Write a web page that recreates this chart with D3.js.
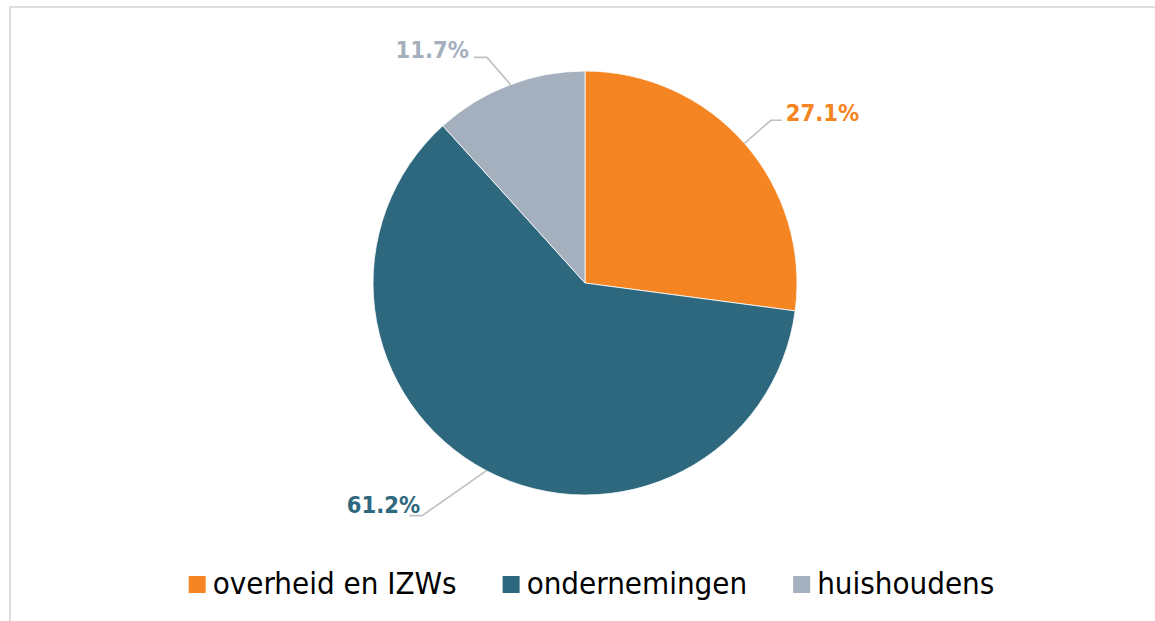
<!DOCTYPE html>
<meta charset="utf-8">
<style>
body { margin: 0; }
.lbl {
    font-family: "DejaVu Sans Condensed", "DejaVu Sans", sans-serif;
    font-stretch: condensed;
    font-weight: bold;
    font-size: 23.5px;
}
.legend text {
    font-family: "DejaVu Sans Condensed", "DejaVu Sans", sans-serif;
    font-stretch: condensed;
    font-size: 31px;
    fill: #000;
}
</style>
<script src="https://d3js.org/d3.v7.min.js"></script>
<div id="chart"></div>
<script>

// categories and shares (%)
var categories = ["overheid en IZWs", "ondernemingen", "huishoudens"];
var shares = [27.1, 61.2, 11.7];
var colors = ["#F58522", "#2E687E", "#A5B0BE"];

// where each label sits: angle of leader start on the slice, elbow (angle, radius), side of label
var leaderStart = [48.8, 207.7, 339.4];
var elbowAngle = [48.8, 215.0, 336.5];
var elbowRadius = [247, 284, 246];
var labelSide = ["right", "left", "left"];

var width = 1155, height = 621;
var cx = 585, cy = 283, radius = 212;

var svg = d3.select("#chart").append("svg")
    .attr("width", width)
    .attr("height", height);

svg.append("rect")
    .attr("width", width)
    .attr("height", height)
    .attr("fill", "#fff");

// chart frame (only top + left visible)
svg.append("rect")
    .attr("x", 10)
    .attr("y", 7)
    .attr("width", width + 20)
    .attr("height", height + 20)
    .attr("fill", "none")
    .attr("stroke", "#dedede")
    .attr("stroke-width", 2);

var data = categories.map(function(c, i) { return {name: c, value: shares[i], i: i}; });

var pie = d3.pie()
    .sort(null)
    .value(function(d) { return d.value; });

var arc = d3.arc()
    .innerRadius(0)
    .outerRadius(radius);

var g = svg.append("g")
    .attr("transform", "translate(" + cx + "," + cy + ")");

var arcs = pie(data);

g.selectAll("path.slice")
    .data(arcs)
    .enter().append("path")
    .attr("class", "slice")
    .attr("d", arc)
    .attr("fill", function(d) { return colors[d.data.i]; })
    .attr("stroke", "#fff")
    .attr("stroke-width", 0.8);

function polar(deg, r) {
    var a = deg * Math.PI / 180;
    return [r * Math.sin(a), -r * Math.cos(a)];
}

// leader lines + labels
arcs.forEach(function(d) {
    var i = d.data.i;
    var p0 = polar(leaderStart[i], radius);
    var p1 = polar(elbowAngle[i], elbowRadius[i]);
    var right = labelSide[i] === "right";
    var p2 = [p1[0] + (right ? 11 : -13), p1[1]];

    g.append("polyline")
        .attr("points", [p0, p1, p2].map(function(p) { return p.join(","); }).join(" "))
        .attr("fill", "none")
        .attr("stroke", "#bfbfbf")
        .attr("stroke-width", 1.6);

    var tx, ty;
    if (right) { tx = p2[0] + 4; ty = p2[1] + 1; }
    else if (i === 1) { tx = p1[0] - 2; ty = p1[1] - 3; }
    else { tx = p2[0] - 5; ty = p2[1] + 0.5; }

    g.append("text")
        .attr("x", tx)
        .attr("y", ty)
        .attr("text-anchor", right ? "start" : "end")
        .attr("class", "lbl")
        .attr("fill", colors[i])
        .text(d3.format(".1f")(d.data.value) + "%");
});

// legend
var legend = svg.append("g").attr("class", "legend");
var items = legend.selectAll("g")
    .data(data)
    .enter().append("g");

items.append("rect")
    .attr("width", 17)
    .attr("height", 17)
    .attr("y", -18)
    .attr("fill", function(d) { return colors[d.i]; });

items.append("text")
    .attr("x", 24)
    .attr("y", 0)
    .text(function(d) { return d.name; });

var gap = 46;
var xpos = 0;
items.each(function() {
    var t = d3.select(this).select("text").node().getComputedTextLength();
    d3.select(this).attr("transform", "translate(" + xpos + ",0)");
    xpos += 24 + t + gap;
});
var total = xpos - gap;
legend.attr("transform", "translate(" + (591.5 - total / 2) + ",594)");

</script>
